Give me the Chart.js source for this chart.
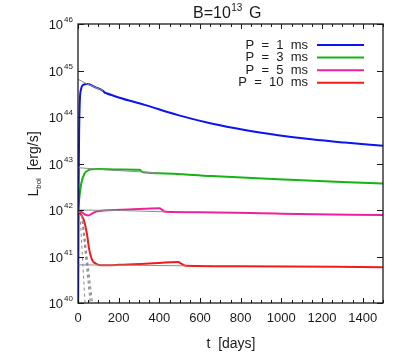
<!DOCTYPE html>
<html>
<head>
<meta charset="utf-8">
<script src="https://cdn.jsdelivr.net/npm/chart.js@4.4.0/dist/chart.umd.min.js"></script>
<style>
  body { margin: 0; background: #fff; }
  #wrap { width: 407px; height: 353px; }
</style>
</head>
<body>
<div id="wrap"><canvas id="lumChart" width="407" height="353"></canvas></div>
<script>
// light curves, log10 of L_bol [erg/s] vs t [days]
const periods = [1, 3, 5, 10];
const seriesColors = ['#0a14f0', '#14b414', '#f02098', '#f51a1a'];

const tBlue = [0, 3, 6, 9, 15, 25, 45, 90, 124, 130, 140, 200, 328, 492, 656, 820, 984, 1148, 1312, 1500];
const lBlue = [39.0, 42.5, 43.8, 44.35, 44.6, 44.69, 44.71, 44.63, 44.56, 44.53, 44.51, 44.42, 44.26, 44.04, 43.86, 43.72, 43.61, 43.52, 43.45, 43.38];

const tGreen = [0, 8, 16, 33, 50, 66, 98, 200, 300, 305, 320, 400, 656, 984, 1500];
const lGreen = [42.0, 42.32, 42.57, 42.79, 42.85, 42.875, 42.88, 42.87, 42.865, 42.86, 42.81, 42.79, 42.73, 42.66, 42.57];

const tPink = [0, 20, 35, 50, 75, 95, 130, 250, 400, 415, 430, 600, 1000, 1500];
const lPink = [42.0, 41.95, 41.9, 41.88, 41.94, 41.97, 41.99, 42.01, 42.035, 42.0, 41.96, 41.95, 41.92, 41.89];

const tRed = [0, 5, 29, 46, 54, 70, 87, 112, 200, 350, 492, 510, 531, 800, 1500];
const lRed = [42.0, 41.96, 41.78, 41.43, 41.18, 40.92, 40.85, 40.81, 40.82, 40.85, 40.88, 40.84, 40.8, 40.79, 40.77];

// thin grey spin-down reference curves
const tRefBlue = [0, 45, 124];
const lRefBlue = [44.81, 44.71, 44.57];
const tRefGreen = [0, 150, 310, 400];
const lRefGreen = [42.91, 42.86, 42.82, 42.79];
const tRefPink = [0, 200, 430];
const lRefPink = [42.0, 41.99, 41.96];
const tRefRed = [0, 300, 531];
const lRefRed = [40.82, 40.81, 40.8];

// dashed grey curves near the origin
const tDash1 = [0, 12, 36];
const lDash1 = [42.0, 41.75, 39.9];
const tDash2 = [0, 18, 62];
const lDash2 = [42.0, 41.85, 39.9];
const tDash3 = [0, 20, 68];
const lDash3 = [42.0, 41.85, 39.9];
const tDash4 = [0, 22, 74];
const lDash4 = [42.0, 41.85, 39.9];

const xTicks = [0, 200, 400, 600, 800, 1000, 1200, 1400];
const xTickLabels = ['0', '200', '400', '600', '800', '1000', '1200', '1400'];
const yExponents = [40, 41, 42, 43, 44, 45, 46];

function pts(ts, ls) {
  return ts.map((t, i) => ({ x: t, y: Math.pow(10, ls[i]) }));
}

const FONT = '"Liberation Sans", Arial, sans-serif';
const INK = '#1a1a1a';

const greyLine = (ts, ls) => ({ data: pts(ts, ls), borderColor: '#8c8c8c', borderWidth: 1, pointRadius: 0, tension: 0 });
const dashLine = (ts, ls) => ({ data: pts(ts, ls), borderColor: '#888', borderWidth: 1, borderDash: [3, 3], pointRadius: 0, tension: 0 });

const mainSeries = [
  [tBlue, lBlue], [tGreen, lGreen], [tPink, lPink], [tRed, lRed]
].map((s, i) => ({
  label: 'P = ' + periods[i] + ' ms',
  data: pts(s[0], s[1]),
  borderColor: seriesColors[i],
  borderWidth: 2,
  pointRadius: 0,
  cubicInterpolationMode: 'monotone'
}));

const datasets = [
  dashLine(tDash1, lDash1), dashLine(tDash2, lDash2), dashLine(tDash3, lDash3), dashLine(tDash4, lDash4),
  greyLine(tRefBlue, lRefBlue), greyLine(tRefGreen, lRefGreen), greyLine(tRefPink, lRefPink), greyLine(tRefRed, lRefRed)
].concat(mainSeries);

// frame, inward ticks, superscript labels, title and legend
const decor = {
  id: 'decor',
  afterDraw(chart) {
    const ctx = chart.ctx;
    const a = chart.chartArea;
    const xs = chart.scales.x, ys = chart.scales.y;
    ctx.save();
    ctx.strokeStyle = INK;
    ctx.lineWidth = 1.3;
    ctx.strokeRect(a.left, a.top, a.right - a.left, a.bottom - a.top);

    ctx.lineWidth = 1;
    for (let t = 0; t <= 1500; t += 50) {
      const px = Math.round(xs.getPixelForValue(t)) + 0.5;
      const len = t % 200 === 0 ? 5 : 3;
      ctx.beginPath();
      ctx.moveTo(px, a.bottom); ctx.lineTo(px, a.bottom - len);
      ctx.moveTo(px, a.top); ctx.lineTo(px, a.top + len);
      ctx.stroke();
    }
    yExponents.forEach(e => {
      const py = Math.round(ys.getPixelForValue(Math.pow(10, e))) + 0.5;
      ctx.beginPath();
      ctx.moveTo(a.left, py); ctx.lineTo(a.left + 6, py);
      ctx.moveTo(a.right, py); ctx.lineTo(a.right - 6, py);
      ctx.stroke();
      // label 10^e
      ctx.fillStyle = INK;
      ctx.textBaseline = 'alphabetic';
      ctx.font = '8px ' + FONT;
      const sup = String(e);
      const sw = ctx.measureText(sup).width;
      ctx.textAlign = 'right';
      ctx.fillText(sup, a.left - 5, py - 3);
      ctx.font = '13px ' + FONT;
      ctx.fillText('10', a.left - 6 - sw, py + 4);
    });

    // title
    ctx.fillStyle = INK;
    ctx.textAlign = 'left';
    const t1 = 'B=10', t3 = 'G';
    ctx.font = '16px ' + FONT; const w1 = ctx.measureText(t1).width;
    ctx.font = '10px ' + FONT; const w2 = ctx.measureText('13').width;
    let tx = 193;
    ctx.font = '16px ' + FONT; ctx.fillText(t1, tx, 18);
    ctx.font = '10px ' + FONT; ctx.fillText('13', tx + w1 + 0.5, 11);
    ctx.font = '16px ' + FONT; ctx.fillText(t3, tx + w1 + w2 + 7, 18);

    // x title
    ctx.font = '14px ' + FONT;
    ctx.textAlign = 'center';
    ctx.fillText('t  [days]', 231, 348);

    // y title (rotated)
    ctx.save();
    ctx.translate(38, 164);
    ctx.rotate(-Math.PI / 2);
    ctx.font = '14px ' + FONT; const wl = ctx.measureText('L').width;
    ctx.font = '8px ' + FONT; const wb = ctx.measureText('bol').width;
    ctx.font = '14px ' + FONT; const wr = ctx.measureText('  [erg/s]').width;
    let yx = -(wl + wb + wr) / 2;
    ctx.textAlign = 'left';
    ctx.fillText('L', yx, 0);
    ctx.font = '8px ' + FONT; ctx.fillText('bol', yx + wl, 3);
    ctx.font = '14px ' + FONT; ctx.fillText('  [erg/s]', yx + wl + wb, 0);
    ctx.restore();

    // legend
    ctx.font = '13px ' + FONT;
    ctx.textAlign = 'right';
    ctx.textBaseline = 'middle';
    mainSeries.forEach((ds, i) => {
      const ly = 45 + i * 12.6;
      ctx.fillStyle = INK;
      ctx.fillText(ds.label.replace(/ /g, '  '), 308, ly);
      ctx.strokeStyle = ds.borderColor;
      ctx.lineWidth = 2;
      ctx.beginPath();
      ctx.moveTo(317, ly); ctx.lineTo(364, ly);
      ctx.stroke();
    });
    ctx.restore();
  }
};

new Chart(document.getElementById('lumChart'), {
  type: 'line',
  data: { datasets: datasets },
  options: {
    responsive: false,
    animation: false,
    layout: { padding: { left: 78, right: 24, top: 24, bottom: 0 } },
    plugins: { legend: { display: false }, tooltip: { enabled: false } },
    scales: {
      x: {
        type: 'linear',
        min: 0,
        max: 1500,
        grid: { display: false, drawTicks: false },
        border: { display: false },
        afterBuildTicks: scale => { scale.ticks = xTicks.map(v => ({ value: v })); },
        afterFit: scale => { scale.height = 50; },
        ticks: {
          autoSkip: false,
          maxRotation: 0,
          padding: 8,
          color: INK,
          font: { size: 13, family: FONT },
          callback: (v) => xTickLabels[xTicks.indexOf(v)]
        }
      },
      y: {
        type: 'logarithmic',
        display: false,
        min: 1e40,
        max: 1e46
      }
    }
  },
  plugins: [decor]
});
</script>
</body>
</html>
